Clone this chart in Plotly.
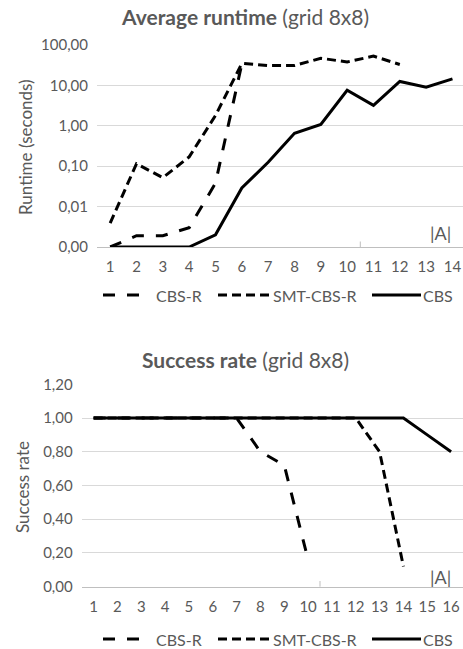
import plotly.graph_objects as go

W, H = 463, 649

# ---------------- data ----------------
series_names = ["CBS-R", "SMT-CBS-R", "CBS"]

runtime_x_cbsr = [1, 2, 3, 4, 5, 6]
runtime_cbsr = [0.001, 0.0019, 0.0019, 0.003, 0.038, 34]

runtime_x_smt = [1, 2, 3, 4, 5, 6, 7, 8, 9, 10, 11, 12]
runtime_smt = [0.0039, 0.115, 0.052, 0.17, 1.8, 35, 31, 31, 47, 38, 53, 33]

runtime_x_cbs = [1, 2, 3, 4, 5, 6, 7, 8, 9, 10, 11, 12, 13, 14]
runtime_cbs = [0.001, 0.001, 0.001, 0.001, 0.002, 0.029, 0.125, 0.65, 1.08, 7.6, 3.2, 12.5, 9.0, 14.5]

success_x_cbsr = [1, 2, 3, 4, 5, 6, 7, 8, 9, 10]
success_cbsr = [1, 1, 1, 1, 1, 1, 1, 0.8, 0.72, 0.16]

success_x_smt = [1, 2, 3, 4, 5, 6, 7, 8, 9, 10, 11, 12, 13, 14]
success_smt = [1, 1, 1, 1, 1, 1, 1, 1, 1, 1, 1, 1, 0.8, 0.12]

success_x_cbs = [1, 2, 3, 4, 5, 6, 7, 8, 9, 10, 11, 12, 13, 14, 15, 16]
success_cbs = [1, 1, 1, 1, 1, 1, 1, 1, 1, 1, 1, 1, 1, 1, 0.9, 0.8]

runtime_ticks = [0.001, 0.01, 0.1, 1, 10, 100]
runtime_ticktext = ["0,00", "0,01", "0,10", "1,00", "10,00", "100,00"]
success_ticks = [0, 0.2, 0.4, 0.6, 0.8, 1.0, 1.2]
success_ticktext = ["0,00", "0,20", "0,40", "0,60", "0,80", "1,00", "1,20"]

# ---------------- styles ----------------
FONT = "Lato"
GRAY = "#595959"
GRID = "#d9d9d9"
AXIS = "#bfbfbf"
dashes = {"CBS-R": "12px,12px", "SMT-CBS-R": "9px,5px", "CBS": "solid"}

def px_x(p):
    return p / W

def px_y(p):
    return 1 - p / H

fig = go.Figure()

top = [(runtime_x_cbsr, runtime_cbsr), (runtime_x_smt, runtime_smt), (runtime_x_cbs, runtime_cbs)]
bot = [(success_x_cbsr, success_cbsr), (success_x_smt, success_smt), (success_x_cbs, success_cbs)]

for name, (xs, ys) in zip(series_names, top):
    fig.add_trace(go.Scatter(x=xs, y=ys, mode="lines", name=name, showlegend=False,
                             line=dict(color="black", width=3, dash=dashes[name]),
                             xaxis="x", yaxis="y"))
for name, (xs, ys) in zip(series_names, bot):
    fig.add_trace(go.Scatter(x=xs, y=ys, mode="lines", name=name, showlegend=False,
                             line=dict(color="black", width=3, dash=dashes[name]),
                             xaxis="x2", yaxis="y2"))

tickfont = dict(family=FONT, size=15, color=GRAY)

fig.update_layout(
    width=W, height=H,
    autosize=False,
    margin=dict(l=0, r=0, t=0, b=0, pad=0, autoexpand=False),
    showlegend=False,
    paper_bgcolor="white", plot_bgcolor="white",
    font=dict(family=FONT, color=GRAY),
    xaxis=dict(domain=[px_x(97), 1.0], range=[0.5, 14.4], tickmode="array",
               tickvals=runtime_x_cbs, ticktext=[str(v) for v in runtime_x_cbs],
               showgrid=False, zeroline=False, showline=True, linecolor=AXIS, linewidth=1,
               ticks="", tickfont=tickfont, anchor="y", automargin=False, ticklabelstandoff=6),
    yaxis=dict(domain=[px_y(247), px_y(45)], type="log", range=[-3, 2],
               tickmode="array", tickvals=runtime_ticks, ticktext=runtime_ticktext,
               showgrid=True, gridcolor=GRID, gridwidth=1, zeroline=False, showline=False,
               ticks="", tickfont=tickfont, anchor="x", ticklabelstandoff=8, automargin=False),
    xaxis2=dict(domain=[px_x(81.7), 1.0], range=[0.5, 16.5], tickmode="array",
                tickvals=success_x_cbs, ticktext=[str(v) for v in success_x_cbs],
                showgrid=False, zeroline=False, showline=True, linecolor=AXIS, linewidth=1,
                ticks="", tickfont=tickfont, anchor="y2", automargin=False, ticklabelstandoff=6),
    yaxis2=dict(domain=[px_y(586.7), px_y(384.3)], range=[0, 1.2],
                tickmode="array", tickvals=success_ticks, ticktext=success_ticktext,
                showgrid=True, gridcolor=GRID, gridwidth=1, zeroline=False, showline=False,
                ticks="", tickfont=tickfont, anchor="x2", ticklabelstandoff=8, automargin=False),
)

ann = []
ann.append(dict(text="<b>Average runtime</b> (grid 8x8)", x=px_x(245), y=px_y(17),
                xref="paper", yref="paper", showarrow=False,
                font=dict(family=FONT, size=21, color=GRAY), xanchor="center", yanchor="middle"))
ann.append(dict(text="<b>Success rate</b> (grid 8x8)", x=px_x(245), y=px_y(359),
                xref="paper", yref="paper", showarrow=False,
                font=dict(family=FONT, size=21, color=GRAY), xanchor="center", yanchor="middle"))
ann.append(dict(text="Runtime (seconds)", x=px_x(25), y=px_y(147), textangle=-90,
                xref="paper", yref="paper", showarrow=False,
                font=dict(family=FONT, size=17, color=GRAY), xanchor="center", yanchor="middle"))
ann.append(dict(text="Success rate", x=px_x(22), y=px_y(487), textangle=-90,
                xref="paper", yref="paper", showarrow=False,
                font=dict(family=FONT, size=17, color=GRAY), xanchor="center", yanchor="middle"))
ann.append(dict(text="|A|", x=px_x(440), y=px_y(233), xref="paper", yref="paper",
                showarrow=False, font=dict(family=FONT, size=18, color=GRAY),
                xanchor="center", yanchor="middle"))
ann.append(dict(text="|A|", x=px_x(440), y=px_y(577), xref="paper", yref="paper",
                showarrow=False, font=dict(family=FONT, size=18, color=GRAY),
                xanchor="center", yanchor="middle"))

shapes = []
# small axis tick marks
shapes.append(dict(type="line", xref="x", yref="paper", x0=10.5, x1=10.5,
                   y0=px_y(247), y1=px_y(241.5), line=dict(color=AXIS, width=1)))
shapes.append(dict(type="line", xref="x2", yref="paper", x0=10.5, x1=10.5,
                   y0=px_y(586.7), y1=px_y(581), line=dict(color=AXIS, width=1)))

# manual legends
legend_sample = {"CBS-R": (103, 140), "SMT-CBS-R": (218, 270), "CBS": (372, 421)}
legend_text_x = {"CBS-R": 154, "SMT-CBS-R": 271, "CBS": 421}
for ly in (295, 639):
    for name in series_names:
        x0, x1 = legend_sample[name]
        shapes.append(dict(type="line", xref="paper", yref="paper",
                           x0=px_x(x0), x1=px_x(x1), y0=px_y(ly), y1=px_y(ly),
                           line=dict(color="black", width=3, dash=dashes[name])))
        ann.append(dict(text=name, x=px_x(legend_text_x[name]), y=px_y(ly),
                        xref="paper", yref="paper", showarrow=False,
                        font=dict(family=FONT, size=16, color=GRAY),
                        xanchor="left", yanchor="middle"))

fig.update_layout(annotations=ann, shapes=shapes)

post = ("document.body.style.margin='0px';document.body.style.padding='0px';"
        "document.body.style.overflow='hidden';"
        "document.documentElement.style.overflow='hidden';")
fig.write_html("out.html", post_script=post, config={"displayModeBar": False})
